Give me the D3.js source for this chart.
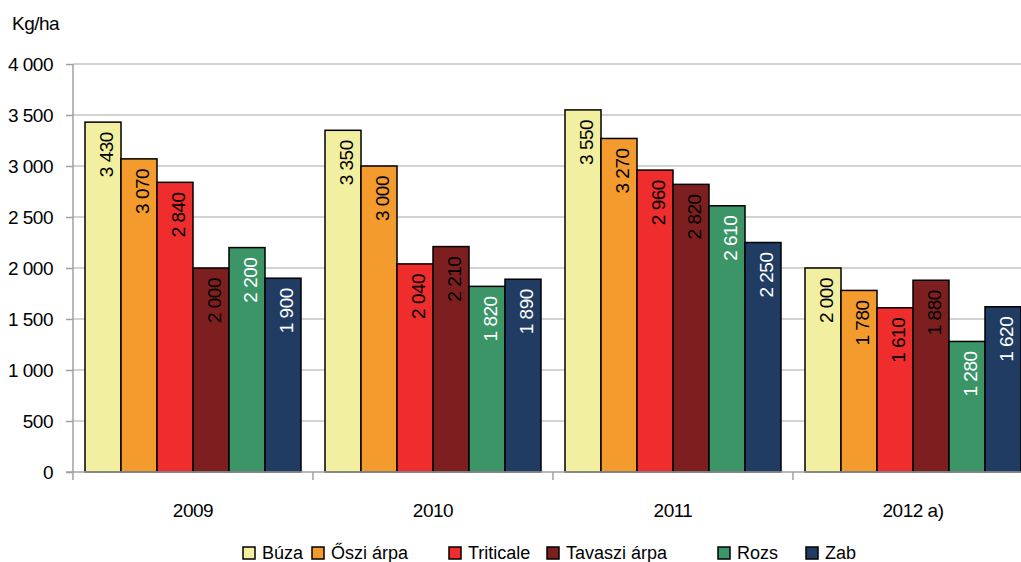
<!DOCTYPE html>
<html><head><meta charset="utf-8">
<script src="https://cdn.jsdelivr.net/npm/d3@7"></script>
<style>body{margin:0;background:#fff}svg{display:block;font-family:"Liberation Sans",Arial,sans-serif}</style>
</head><body><svg id="c" width="1021" height="562"></svg>
<script>
const years = ["2009","2010","2011","2012 a)"];
const series = ["Búza","Őszi árpa","Triticale","Tavaszi árpa","Rozs","Zab"];
const colors = ["#f3efa1","#f49b2d","#ee2d2c","#7d1f1f","#3b9567","#213c63"];
const labelColors = ["#000","#000","#000","#000","#fff","#fff"];
const buza = [3430,3350,3550,2000];
const osziArpa = [3070,3000,3270,1780];
const triticale = [2840,2040,2960,1610];
const tavasziArpa = [2000,2210,2820,1880];
const rozs = [2200,1820,2610,1280];
const zab = [1900,1890,2250,1620];
const yTicks = [0,500,1000,1500,2000,2500,3000,3500,4000];
const values = [buza,osziArpa,triticale,tavasziArpa,rozs,zab];

(function(){
const FS = 19, LS = -0.5;
const svg = d3.select("#c");
const pL=73, pR=1033, pT=64, pB=472;
const y = d3.scaleLinear().domain([0,4000]).range([pB,pT]);
const x0 = d3.scaleBand().domain(years).range([pL,pR]).padding(0);
const x1 = d3.scaleBand().domain(series).range([0,x0.bandwidth()]).paddingInner(0).paddingOuter(1/3);
const fmt = v => d3.format(",")(v).replace(/,/g," ");

svg.append("g").selectAll("line").data(yTicks.filter(d=>d>0)).join("line")
  .attr("x1",pL).attr("x2",1021).attr("y1",d=>y(d)).attr("y2",d=>y(d))
  .attr("stroke","#c4c4c4").attr("stroke-width",1.5);

const ya = svg.append("g").attr("transform",`translate(${pL},0)`)
  .call(d3.axisLeft(y).tickValues(yTicks).tickFormat(fmt).tickSize(7).tickPadding(13));
ya.select(".domain").attr("stroke","#a0a0a0").attr("stroke-width",1.5).attr("d",`M0,${pT}V${pB}`);
ya.selectAll(".tick line").attr("stroke","#a0a0a0").attr("stroke-width",1.5);
ya.selectAll("text").attr("font-size",FS).attr("letter-spacing",LS).attr("fill","#000")
  .attr("font-family","Liberation Sans, Arial").attr("dy","0.35em");

const groups = svg.append("g").selectAll("g").data(years).join("g")
  .attr("transform",d=>`translate(${x0(d)},0)`);
groups.each(function(yr,yi){
  const g = d3.select(this);
  series.forEach((s,si)=>{
    const v = values[si][yi];
    g.append("rect").attr("x",x1(s)).attr("y",y(v)).attr("width",x1.bandwidth()).attr("height",y(0)-y(v))
      .attr("fill",colors[si]).attr("stroke","#000").attr("stroke-width",1.5);
    const cx = x1(s)+x1.bandwidth()/2, ty = y(v)+10;
    g.append("text").attr("transform",`translate(${cx+10},${ty}) rotate(-90)`)
      .attr("text-anchor","end").attr("font-size",FS).attr("letter-spacing",LS)
      .attr("fill",labelColors[si]).text(fmt(v));
  });
});

const xa = svg.append("g");
xa.append("line").attr("x1",pL-7).attr("x2",1021).attr("y1",pB).attr("y2",pB)
  .attr("stroke","#a0a0a0").attr("stroke-width",1.5);
xa.selectAll("line.t").data(years).join("line").attr("class","t")
  .attr("x1",d=>x0(d)).attr("x2",d=>x0(d)).attr("y1",pB).attr("y2",pB+8)
  .attr("stroke","#a0a0a0").attr("stroke-width",1.5);
xa.selectAll("text").data(years).join("text")
  .attr("x",d=>x0(d)+x0.bandwidth()/2).attr("y",517)
  .attr("text-anchor","middle").attr("font-size",FS).attr("letter-spacing",LS).text(d=>d);

svg.append("text").attr("x",12).attr("y",30).attr("font-size",FS).attr("letter-spacing",LS).text("Kg/ha");

// legend layout (slot positions)
const legendX = [243,312,449,547,718,806];
const lg = svg.append("g");
series.forEach((s,i)=>{
  const gx = legendX[i];
  lg.append("rect").attr("x",gx).attr("y",547).attr("width",12).attr("height",12)
    .attr("fill",colors[i]).attr("stroke","#000").attr("stroke-width",1.5);
  lg.append("text").attr("x",gx+19).attr("y",559).attr("font-size",18).text(s);
});
})();
</script></body></html>
